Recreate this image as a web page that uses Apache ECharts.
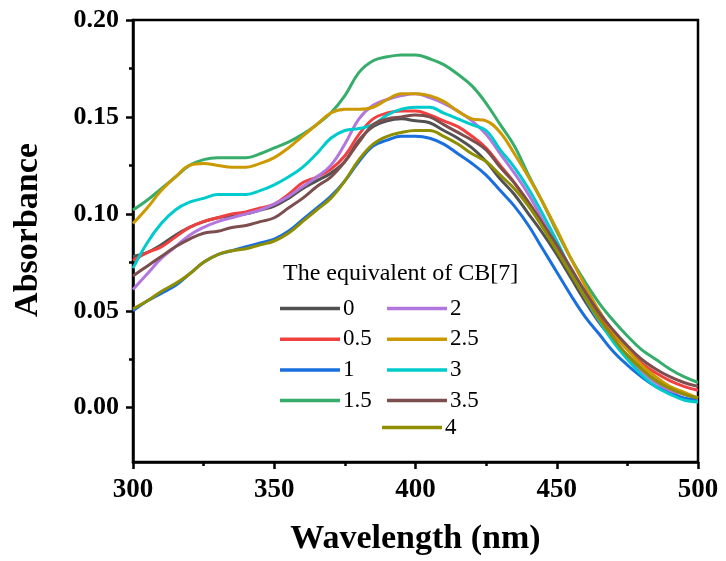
<!DOCTYPE html>
<html>
<head>
<meta charset="utf-8">
<script src="https://cdn.jsdelivr.net/npm/echarts@6/dist/echarts.min.js"></script>
<style>
html,body{margin:0;padding:0;background:#fff;}
#chart{width:726px;height:561px;}
</style>
</head>
<body>
<div id="chart"></div>
<script>
// Wavelength (nm)
var wavelengths = [300,305,310,315,320,325,330,335,340,345,350,355,360,365,370,375,380,385,390,395,400,405,410,415,420,425,430,435,440,445,450,455,460,465,470,475,480,485,490,495,500];

// Absorbance for each equivalent of CB[7]
var eq0   = [0.078,0.080,0.084,0.089,0.093,0.096,0.098,0.099,0.100,0.102,0.104,0.108,0.113,0.117,0.121,0.127,0.138,0.145,0.148,0.149,0.148,0.147,0.143,0.139,0.134,0.127,0.118,0.110,0.100,0.090,0.079,0.067,0.055,0.044,0.035,0.027,0.020,0.014,0.010,0.007,0.005];
var eq0_5 = [0.076,0.080,0.083,0.088,0.093,0.096,0.098,0.100,0.101,0.103,0.105,0.110,0.116,0.119,0.123,0.130,0.141,0.149,0.152,0.153,0.153,0.151,0.148,0.145,0.140,0.134,0.125,0.116,0.105,0.094,0.082,0.070,0.058,0.047,0.038,0.030,0.023,0.018,0.014,0.011,0.009];
var eq1   = [0.050,0.055,0.059,0.063,0.069,0.075,0.079,0.081,0.083,0.085,0.087,0.091,0.097,0.103,0.109,0.117,0.127,0.135,0.138,0.140,0.140,0.139,0.136,0.131,0.126,0.120,0.112,0.104,0.094,0.082,0.070,0.058,0.047,0.038,0.029,0.022,0.016,0.011,0.008,0.005,0.004];
var eq1_5 = [0.102,0.107,0.113,0.119,0.125,0.128,0.129,0.129,0.129,0.131,0.134,0.137,0.141,0.146,0.152,0.161,0.173,0.179,0.181,0.182,0.182,0.180,0.177,0.172,0.166,0.157,0.146,0.135,0.120,0.106,0.091,0.077,0.065,0.054,0.045,0.037,0.030,0.025,0.020,0.016,0.013];
var eq2   = [0.061,0.069,0.077,0.083,0.089,0.093,0.096,0.098,0.100,0.102,0.105,0.109,0.114,0.119,0.125,0.136,0.149,0.156,0.159,0.161,0.162,0.160,0.157,0.153,0.148,0.141,0.131,0.121,0.110,0.097,0.084,0.070,0.057,0.045,0.035,0.026,0.019,0.013,0.009,0.007,0.005];
var eq2_5 = [0.095,0.103,0.112,0.119,0.125,0.126,0.125,0.124,0.124,0.126,0.129,0.134,0.140,0.146,0.152,0.154,0.154,0.155,0.159,0.162,0.162,0.161,0.158,0.153,0.149,0.148,0.142,0.131,0.119,0.106,0.092,0.077,0.063,0.050,0.039,0.030,0.022,0.016,0.011,0.008,0.005];
var eq3   = [0.072,0.085,0.095,0.102,0.106,0.108,0.110,0.110,0.110,0.112,0.115,0.119,0.124,0.131,0.139,0.143,0.144,0.146,0.151,0.154,0.155,0.155,0.152,0.149,0.146,0.143,0.133,0.124,0.113,0.100,0.086,0.071,0.057,0.045,0.034,0.025,0.017,0.011,0.007,0.004,0.003];
var eq3_5 = [0.068,0.073,0.078,0.083,0.087,0.090,0.091,0.093,0.094,0.096,0.098,0.103,0.108,0.114,0.119,0.127,0.137,0.146,0.149,0.150,0.151,0.150,0.146,0.142,0.138,0.133,0.124,0.116,0.106,0.095,0.084,0.072,0.060,0.049,0.040,0.032,0.025,0.020,0.016,0.013,0.011];
var eq4   = [0.051,0.055,0.060,0.064,0.069,0.075,0.079,0.081,0.082,0.084,0.086,0.090,0.096,0.102,0.108,0.117,0.128,0.136,0.140,0.142,0.143,0.143,0.140,0.136,0.131,0.127,0.120,0.113,0.104,0.093,0.081,0.069,0.057,0.046,0.036,0.027,0.020,0.014,0.010,0.007,0.005];

var seriesNames = ['0','0.5','1','1.5','2','2.5','3','3.5','4'];
var seriesValues = [eq0,eq0_5,eq1,eq1_5,eq2,eq2_5,eq3,eq3_5,eq4];
var seriesColors = ['#515151','#F14040','#1A6FDF','#37AD6B','#B177DE','#CC9900','#00CBCC','#7D4E4E','#8E8E00'];

var yMajorTicks = [0,0.05,0.10,0.15,0.20];
var yMinorTicks = [0.025,0.075,0.125,0.175];

var FONT = '"Liberation Serif", "Times New Roman", serif';

var chart = echarts.init(document.getElementById('chart'), null, {renderer:'canvas'});

var series = seriesNames.map(function(name, k){
  return {
    name: name,
    type: 'line',
    xAxisIndex: 0,
    yAxisIndex: 0,
    symbol: 'none',
    smooth: 0.4,
    lineStyle: {width: 3, color: seriesColors[k]},
    itemStyle: {color: seriesColors[k]},
    data: wavelengths.map(function(w, i){ return [w, seriesValues[k][i]]; })
  };
});

function legendCfg(names, left, top){
  return {
    data: names,
    orient: 'vertical',
    left: left,
    top: top,
    padding: 0,
    icon: 'rect',
    itemWidth: 60,
    itemHeight: 3.5,
    itemGap: 7.7,
    selectedMode: false,
    textStyle: {fontFamily: FONT, fontSize: 23, color: '#000', lineHeight: 20, padding: [2,0,0,-2]}
  };
}

var option = {
  backgroundColor: '#fff',
  animation: false,
  grid: {left: 133, right: 28, top: 20, bottom: 98, show: true, borderColor: '#000', borderWidth: 2.5},
  legend: [
    legendCfg(['0','0.5','1','1.5'], 280, 297),
    legendCfg(['2','2.5','3','3.5'], 387, 297),
    legendCfg(['4'], 382, 416)
  ],
  graphic: [{
    type: 'text', left: 283, top: 262,
    style: {text: 'The equivalent of CB[7]', font: '24px ' + FONT, fill: '#000'}
  }],
  xAxis: {
    type: 'value', min: 300, max: 500, interval: 50,
    name: 'Wavelength (nm)', nameLocation: 'middle', nameGap: 60,
    nameTextStyle: {fontFamily: FONT, fontWeight: 'bold', fontSize: 34, color: '#000'},
    axisLine: {show: true, onZero: false, lineStyle: {color: '#000', width: 2.5}},
    axisTick: {show: true, inside: false, length: 7, lineStyle: {color: '#000', width: 2.5}},
    minorTick: {show: true, splitNumber: 2, length: 4, lineStyle: {color: '#000', width: 2.5}},
    axisLabel: {fontFamily: FONT, fontWeight: 'bold', fontSize: 27, color: '#000', margin: 15},
    splitLine: {show: false}
  },
  yAxis: [{
    type: 'value', min: -0.028, max: 0.2, splitNumber: 5,
    name: 'Absorbance', nameLocation: 'middle', nameGap: 88,
    nameTextStyle: {fontFamily: FONT, fontWeight: 'bold', fontSize: 34, color: '#000', padding: [0,0,0,22]},
    axisLine: {show: true, onZero: false, lineStyle: {color: '#000', width: 2.5}},
    axisTick: {show: true, inside: false, length: 7, customValues: yMajorTicks, lineStyle: {color: '#000', width: 2.5}},
    axisLabel: {fontFamily: FONT, fontWeight: 'bold', fontSize: 26, color: '#000', margin: 14,
      customValues: yMajorTicks, formatter: function(v){ return v.toFixed(2); }},
    splitLine: {show: false}
  },{
    type: 'value', min: -0.028, max: 0.2, position: 'left',
    axisLine: {show: false},
    axisTick: {show: true, inside: false, length: 4, customValues: yMinorTicks, lineStyle: {color: '#000', width: 2.5}},
    axisLabel: {show: false},
    splitLine: {show: false}
  }],
  series: series
};
chart.setOption(option);
</script>
</body>
</html>
